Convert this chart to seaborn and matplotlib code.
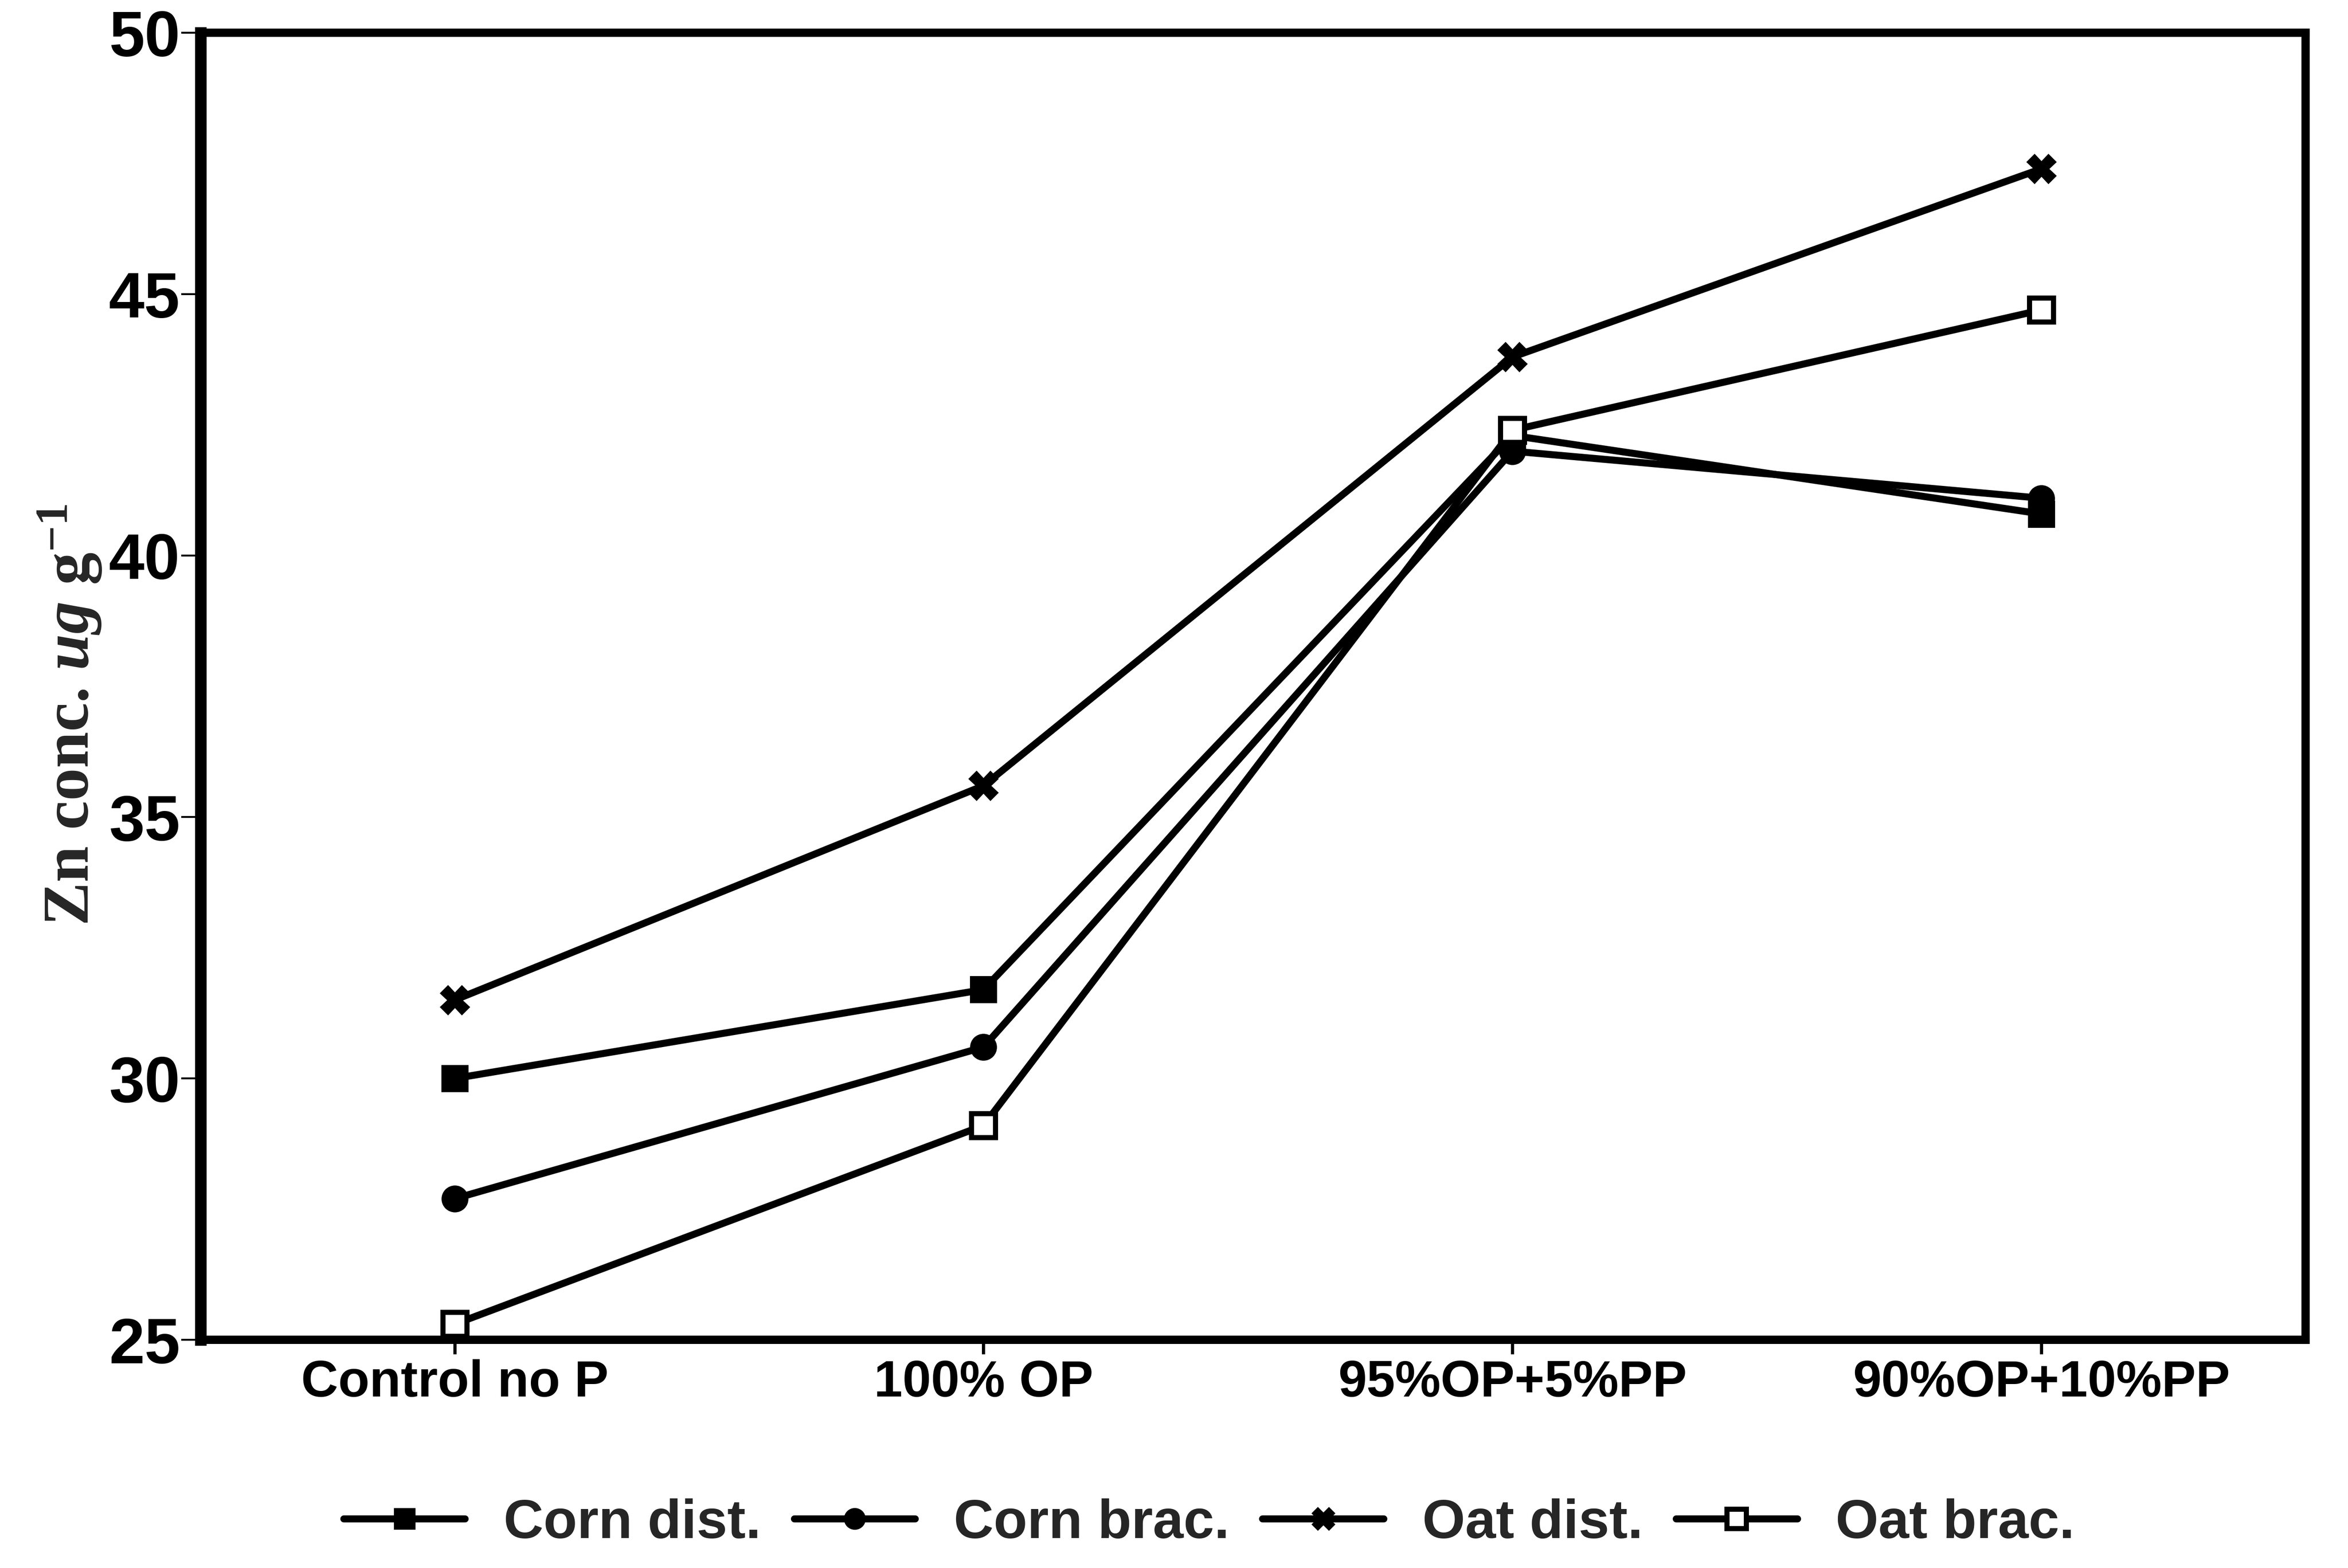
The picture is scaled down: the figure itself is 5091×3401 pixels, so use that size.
import matplotlib
matplotlib.use("Agg")
import matplotlib.pyplot as plt
from matplotlib import font_manager
import seaborn as sns
import pandas as pd

# Zn concentration (ug g-1) by phosphorus treatment
categories = ["Control no P", "100% OP", "95%OP+5%PP", "90%OP+10%PP"]
corn_dist = [30.0, 31.7, 42.3, 40.8]
corn_brac = [27.7, 30.6, 42.0, 41.1]
oat_dist = [31.5, 35.6, 43.8, 47.4]
oat_brac = [25.3, 29.1, 42.4, 44.7]
series_names = ["Corn dist.", "Corn brac.", "Oat dist.", "Oat brac."]
y_ticks = [25, 30, 35, 40, 45, 50]

sns.set_theme(style="white")
names = {f.name for f in font_manager.fontManager.ttflist}
narrow = "Liberation Sans Narrow" in names
sans = ["Liberation Sans Narrow", "Liberation Sans", "DejaVu Sans"] if narrow else ["Liberation Sans", "DejaVu Sans"]
plt.rcParams["font.family"] = sans
plt.rcParams["mathtext.fontset"] = "custom"
plt.rcParams["mathtext.rm"] = "Liberation Serif:bold"
plt.rcParams["mathtext.it"] = "Liberation Serif:italic:bold"

xtick_fs = 95 if narrow else 80
legend_fs = 105 if narrow else 86

DPI = 100
fig = plt.figure(figsize=(5091 / DPI, 3401 / DPI), dpi=DPI)
ax = fig.add_axes([0.0855, 0.1455, 0.982 - 0.0855, 0.979 - 0.1455])

rows = []
for name, vals in zip(series_names, [corn_dist, corn_brac, oat_dist, oat_brac]):
    for cat, v in zip(categories, vals):
        rows.append({"Treatment": cat, "Zn": v, "Series": name})
df = pd.DataFrame(rows)

styles = {
    "Corn dist.": dict(marker="s", markersize=40, markerfacecolor="black", markeredgecolor="black", markeredgewidth=2),
    "Corn brac.": dict(marker="o", markersize=40, markerfacecolor="black", markeredgecolor="black", markeredgewidth=2),
    "Oat dist.": dict(marker="X", markersize=44, markerfacecolor="black", markeredgecolor="black", markeredgewidth=2),
    "Oat brac.": dict(marker="s", markersize=38, markerfacecolor="white", markeredgecolor="black", markeredgewidth=8),
}

for name in series_names:
    sub = df[df["Series"] == name]
    sns.lineplot(data=sub, x="Treatment", y="Zn", ax=ax, color="black",
                 linewidth=11, label=name, sort=False, **styles[name])

ax.set_xlim(-0.48, 3.5)
ax.set_ylim(25, 50)
ax.set_yticks(y_ticks)
ax.set_yticklabels([str(t) for t in y_ticks], fontsize=100, fontweight="bold",
                   family=["Liberation Sans", "DejaVu Sans"])
ax.set_xticks(range(len(categories)))
ax.set_xticklabels(categories, fontsize=xtick_fs, fontweight="bold")
ax.set_xlabel("")
ax.set_ylabel(r"Zn conc. $\mathit{ug}$ g$^{-1}$", fontsize=102, fontweight="bold",
              family=["Liberation Serif", "DejaVu Serif"])
ax.yaxis.set_label_coords(-0.046, 0.478)

for sp in ax.spines.values():
    sp.set_visible(True)
    sp.set_color("black")
    sp.set_linewidth(13)
ax.spines["left"].set_linewidth(18)

ax.tick_params(axis="y", direction="out", length=30, width=3, pad=2, colors="black", left=True)
ax.tick_params(axis="x", direction="out", length=22, width=5, pad=8, colors="black", bottom=True)
ax.grid(False)

handles, labels = ax.get_legend_handles_labels()
ax.get_legend().remove()
fig.legend(handles, labels, loc="center", bbox_to_anchor=(0.515, 0.028), ncol=4,
           frameon=False, markerscale=0.8, handlelength=2.2,
           handletextpad=0.7, columnspacing=0.6,
           prop={"size": legend_fs, "weight": "bold"})

fig.savefig("out.png", dpi=DPI, facecolor="white")
